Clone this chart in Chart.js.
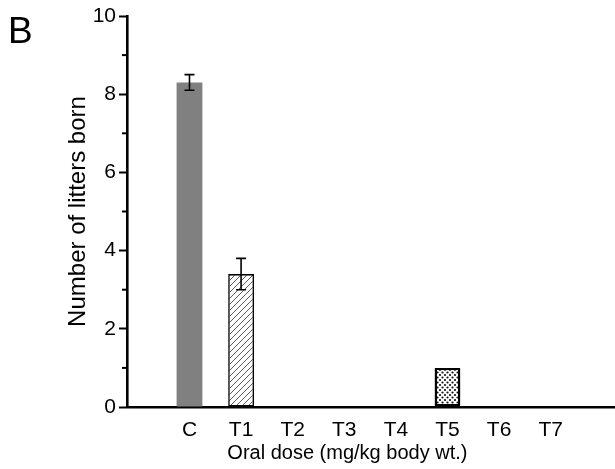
<!DOCTYPE html>
<html>
<head>
<meta charset="utf-8">
<script src="https://cdn.jsdelivr.net/npm/chart.js@4/dist/chart.umd.min.js"></script>
<style>
  html, body { margin: 0; padding: 0; background: #fff; }
  #wrap { width: 615px; height: 469px; position: relative; }
</style>
</head>
<body>
<div id="wrap"><canvas id="chart"></canvas></div>
<script>
const categories = ['C', 'T1', 'T2', 'T3', 'T4', 'T5', 'T6', 'T7']
const litters = [8.3, 3.4, 0, 0, 0, 1.0, 0, 0]
const errors = [0.2, 0.4, 0, 0, 0, 0, 0, 0]
const yTicks = [0, 2, 4, 6, 8, 10]

const FONT = "'Liberation Sans', Arial, sans-serif"

function hatchPattern() {
  const c = document.createElement('canvas')
  c.width = 6
  c.height = 6
  const g = c.getContext('2d')
  g.fillStyle = '#fff'
  g.fillRect(0, 0, 6, 6)
  g.strokeStyle = '#333'
  g.lineWidth = 0.8
  g.beginPath()
  g.moveTo(0, 6); g.lineTo(6, 0)
  g.moveTo(-1, 1); g.lineTo(1, -1)
  g.moveTo(5, 7); g.lineTo(7, 5)
  g.stroke()
  return g.createPattern(c, 'repeat')
}

function stipplePattern() {
  const c = document.createElement('canvas')
  c.width = 5
  c.height = 5
  const g = c.getContext('2d')
  g.fillStyle = '#fff'
  g.fillRect(0, 0, 5, 5)
  g.fillStyle = '#111'
  const dots = [[0, 0], [5, 0], [0, 5], [5, 5], [2.5, 2.5]]
  dots.forEach(([a, b]) => {
    g.beginPath()
    g.arc(a, b, 1.1, 0, Math.PI * 2)
    g.fill()
  })
  return g.createPattern(c, 'repeat')
}

const fills = [
  '#808080', hatchPattern(), '#fff', '#fff', '#fff', stipplePattern(), '#fff', '#fff'
]

// minor ticks on y, error bars, x title, panel letter
const extras = {
  id: 'extras',
  afterDraw(chart) {
    const { ctx, scales: { x, y } } = chart
    ctx.save()
    ctx.strokeStyle = '#000'
    ctx.lineWidth = 2
    for (let v = 1; v < 10; v += 2) {
      const py = y.getPixelForValue(v)
      ctx.beginPath()
      ctx.moveTo(x.left - 5, py)
      ctx.lineTo(x.left, py)
      ctx.stroke()
    }
    ctx.lineWidth = 1.6
    litters.forEach((v, i) => {
      const e = errors[i]
      if (!e) return
      const px = x.getPixelForValue(i)
      const top = y.getPixelForValue(v + e)
      const bot = y.getPixelForValue(v - e)
      ctx.beginPath()
      ctx.moveTo(px, top); ctx.lineTo(px, bot)
      ctx.moveTo(px - 5, top); ctx.lineTo(px + 5, top)
      ctx.moveTo(px - 5, bot); ctx.lineTo(px + 5, bot)
      ctx.stroke()
    })
    ctx.fillStyle = '#000'
    ctx.font = '20px ' + FONT
    ctx.textAlign = 'center'
    ctx.textBaseline = 'middle'
    ctx.fillText('Oral dose (mg/kg body wt.)', x.getPixelForValue(3.06), 453)
    ctx.font = '37px ' + FONT
    ctx.textAlign = 'left'
    ctx.textBaseline = 'alphabetic'
    ctx.fillText('B', 8, 43)
    ctx.restore()
  }
}

new Chart(document.getElementById('chart'), {
  type: 'bar',
  data: {
    datasets: [{
      data: litters.map((v, i) => ({ x: i, y: v })),
      backgroundColor: fills,
      borderColor: '#000',
      borderWidth: ctx => {
        const i = ctx.dataIndex
        if (i === 0 || !litters[i]) return 0
        return i === 5 ? 2.4 : 1.6
      },
      borderSkipped: false,
      categoryPercentage: 1,
      barPercentage: 0.5
    }]
  },
  options: {
    responsive: true,
    maintainAspectRatio: false,
    animation: false,
    layout: { padding: { top: 16, right: 1, left: 0, bottom: 0 } },
    plugins: {
      legend: { display: false },
      tooltip: { enabled: false }
    },
    scales: {
      x: {
        type: 'linear',
        offset: false,
        min: -1.211,
        max: 8.227,
        afterBuildTicks: s => { s.ticks = categories.map((c, i) => ({ value: i })) },
        afterFit: s => { s.height = 62 },
        ticks: {
          color: '#000',
          font: { family: FONT, size: 21 },
          padding: 3,
          maxRotation: 0,
          callback: v => categories[v]
        },
        grid: { display: false },
        border: { display: true, color: '#000', width: 2.6 }
      },
      y: {
        min: 0,
        max: 10,
        afterBuildTicks: s => { s.ticks = yTicks.map(v => ({ value: v })) },
        afterFit: s => { s.width = 127 },
        ticks: {
          color: '#000',
          font: { family: FONT, size: 21 },
          padding: 3
        },
        grid: {
          drawOnChartArea: false,
          drawTicks: true,
          tickLength: 8,
          tickWidth: 2,
          tickColor: '#000'
        },
        border: { display: true, color: '#000', width: 2.6 },
        title: {
          display: true,
          text: 'Number of litters born',
          color: '#000',
          font: { family: FONT, size: 24 },
          padding: { top: 64, bottom: 0 }
        }
      }
    }
  },
  plugins: [extras]
})
</script>
</body>
</html>
